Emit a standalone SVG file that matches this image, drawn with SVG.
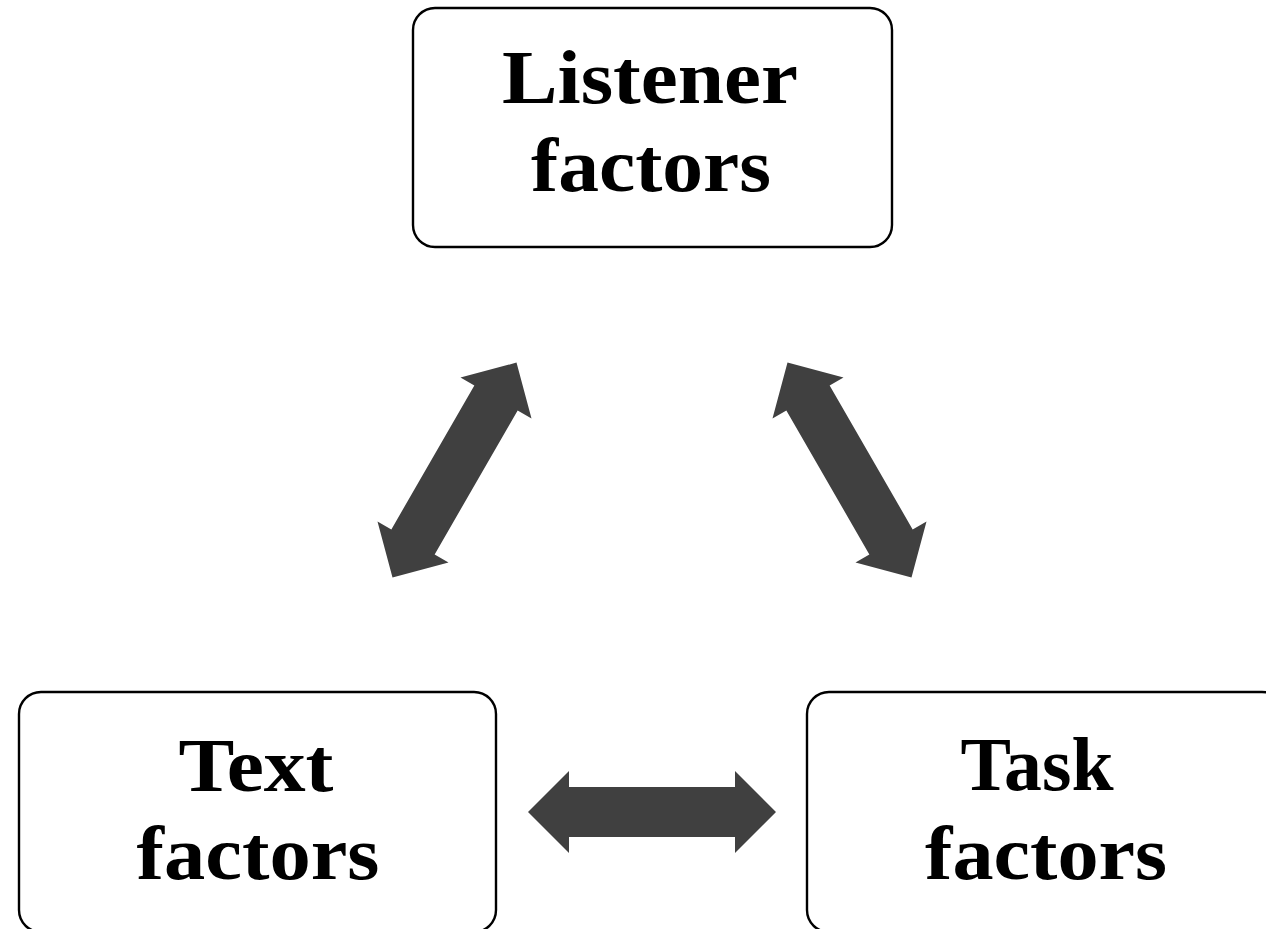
<svg xmlns="http://www.w3.org/2000/svg" xmlns:xlink="http://www.w3.org/1999/xlink" width="1266" height="929" viewBox="0 0 1266 929">
  <style>
    .box { fill: #ffffff; stroke: #000000; stroke-width: 2.4; }
    .label { font-family: "Liberation Serif", "Times New Roman", serif; font-weight: bold; font-size: 76px; fill: #000000; text-anchor: middle; }
    .arrow { fill: #404040; }
  </style>
  <defs>
    <!-- double-headed block arrow centred on the origin, pointing along x -->
    <path id="dblArrow" d="M -124 0 L -83 -41 L -83 -25 L 83 -25 L 83 -41 L 124 0 L 83 41 L 83 25 L -83 25 L -83 41 Z"/>
  </defs>
  <rect x="0" y="0" width="1266" height="929" fill="#ffffff"/>

  <g id="connectors">
    <use xlink:href="#dblArrow" class="arrow" transform="translate(454.5 470) rotate(-60)"/>
    <use xlink:href="#dblArrow" class="arrow" transform="translate(849.5 470) rotate(60)"/>
    <use xlink:href="#dblArrow" class="arrow" transform="translate(652 812)"/>
  </g>

  <g id="listener-factors">
    <rect class="box" x="413" y="8" width="479" height="239" rx="22" ry="22"/>
    <text class="label" x="650" y="103" textLength="296" lengthAdjust="spacingAndGlyphs">Listener</text>
    <text class="label" x="651" y="191" textLength="240" lengthAdjust="spacingAndGlyphs">factors</text>
  </g>

  <g id="text-factors">
    <rect class="box" x="19" y="692" width="477" height="240" rx="22" ry="22"/>
    <text class="label" x="256" y="791" textLength="155" lengthAdjust="spacingAndGlyphs">Text</text>
    <text class="label" x="258" y="879" textLength="243" lengthAdjust="spacingAndGlyphs">factors</text>
  </g>

  <g id="task-factors">
    <rect class="box" x="807" y="692" width="477" height="240" rx="22" ry="22"/>
    <text class="label" x="1037" y="790" textLength="153" lengthAdjust="spacingAndGlyphs">Task</text>
    <text class="label" x="1046" y="879" textLength="242" lengthAdjust="spacingAndGlyphs">factors</text>
  </g>
</svg>
